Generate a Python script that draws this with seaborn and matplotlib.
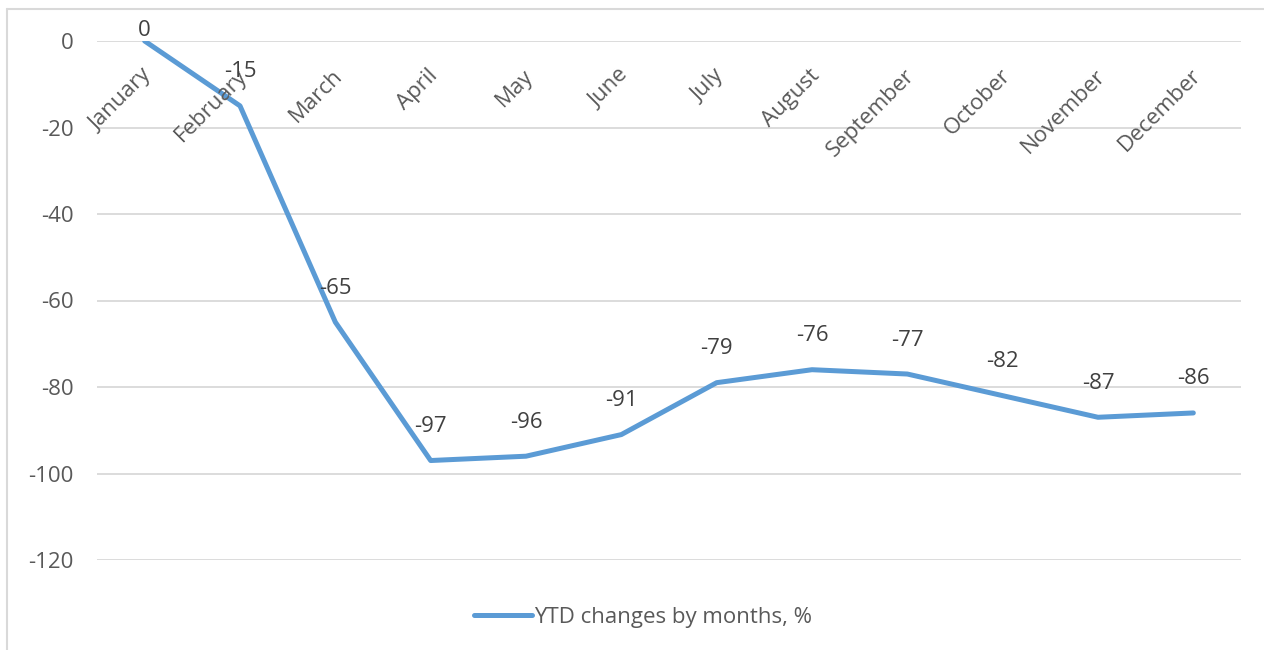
import matplotlib
matplotlib.use("Agg")
import matplotlib.pyplot as plt
import seaborn as sns
import pandas as pd
from matplotlib.lines import Line2D

months = ["January", "February", "March", "April", "May", "June", "July",
          "August", "September", "October", "November", "December"]
values = [0, -15, -65, -97, -96, -91, -79, -76, -77, -82, -87, -86]
yticks = [0, -20, -40, -60, -80, -100, -120]
series_name = "YTD changes by months, %"

sns.set_theme(style="white")
plt.rcParams['font.family'] = ['Open Sans', 'DejaVu Sans']

W, H = 1264, 650
FS = 16
fig = plt.figure(figsize=(W / 100, H / 100), dpi=100)
ax = fig.add_axes([97 / W, 1 - 560 / H, (1241 - 97) / W, (560 - 41) / H])

df = pd.DataFrame({"pos": range(len(months)), "value": values, "series": series_name})
sns.lineplot(data=df, x="pos", y="value", ax=ax, color="#5B9BD5", linewidth=3.6,
             sort=False, label=series_name, solid_capstyle="round", solid_joinstyle="round")

ax.set_xlim(-0.5, len(months) - 0.5)
ax.set_ylim(-120, 0)
ax.set_yticks(yticks)
ax.set_yticklabels([str(v) for v in yticks], fontsize=FS, color="#595959")
ax.tick_params(axis="y", length=0, pad=17)
ax.set_xticks([])
ax.set_xlabel("")
ax.set_ylabel("")
for s in ax.spines.values():
    s.set_visible(False)
ax.grid(axis="y", color="#D9D9D9", linewidth=1.3)
ax.set_axisbelow(True)
ax.get_lines()[0].set_zorder(3)

# category labels along the top axis (at y=0)
for i, m in enumerate(months):
    ax.annotate(m, xy=(i, 0), xytext=(-3, -24), textcoords="offset pixels",
                ha="right", va="top", rotation=45, rotation_mode="anchor",
                fontsize=FS, color="#595959", annotation_clip=False)

# data labels (kept inside the chart area, as the original does at the top)
top_px = ax.transData.transform((0, 0))[1]
for i, v in enumerate(values):
    pt_px = ax.transData.transform((i, v))[1]
    limit = (H - 31) - pt_px
    off = min(34, limit)
    ax.annotate(str(v), xy=(i, v), xytext=(0, off), textcoords="offset pixels",
                ha="center", va="center", fontsize=FS, color="#404040", zorder=4)

ax.get_legend().remove()
fig.legend(handles=[Line2D([0], [0], color="#5B9BD5", lw=3.6, solid_capstyle="round")],
           labels=[series_name], loc="center", bbox_to_anchor=(643 / W, 1 - 617 / H),
           frameon=False, fontsize=FS, labelcolor="#595959", handlelength=2.6,
           handletextpad=0.1)

# outer chart frame
fig.add_artist(Line2D([7 / W, 7 / W], [0, 1 - 9 / H], transform=fig.transFigure,
                      color="#D9D9D9", lw=1.5))
fig.add_artist(Line2D([7 / W, 1], [1 - 9 / H, 1 - 9 / H], transform=fig.transFigure,
                      color="#D9D9D9", lw=1.5))

fig.savefig("out.png", dpi=100)
